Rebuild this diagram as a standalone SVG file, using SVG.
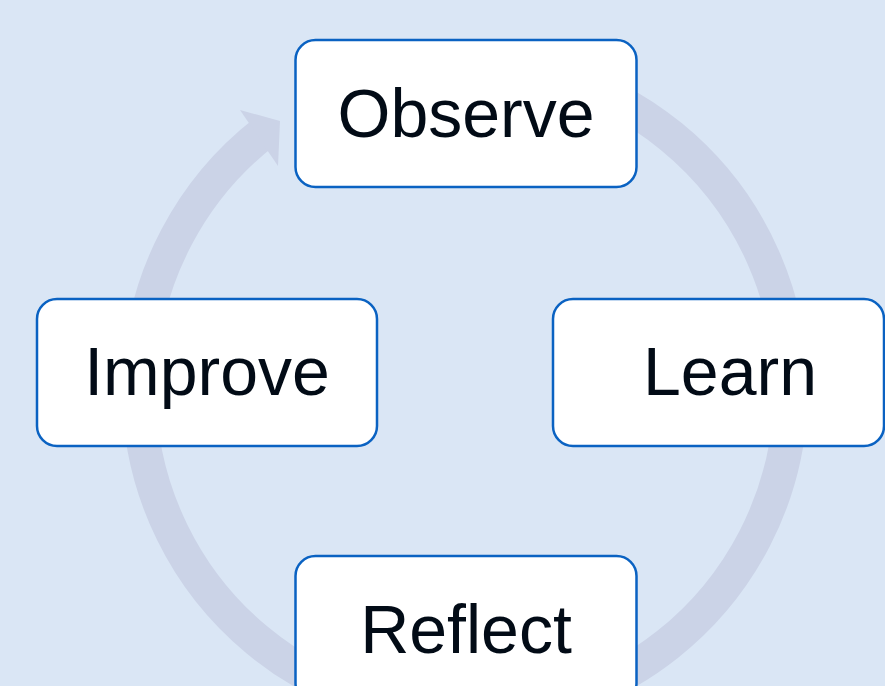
<svg xmlns="http://www.w3.org/2000/svg" width="885" height="686" viewBox="0 0 885 686">
  <style>
    .box { fill: #ffffff; stroke: #0a62c2; stroke-width: 2.5; }
    .label { font-family: "Liberation Sans", Arial, sans-serif; font-size: 68px; fill: #020b16; text-anchor: middle; }
    .ring { fill: none; stroke: #cbd3e7; stroke-width: 34; stroke-linecap: butt; }
    .head { fill: #cbd3e7; }
  </style>
  <rect x="0" y="0" width="885" height="686" fill="#dae6f5"/>
  <g id="connectors">
    <path class="ring" d="M 549.4 74.1 A 326 326 0 1 1 264.3 132.1"/>
    <polygon class="head" points="240,110 280,121 278,166"/>
  </g>
  <g id="observe">
    <rect class="box" x="295.5" y="40" width="341" height="147" rx="20" ry="20"/>
    <text class="label" x="466" y="137">Observe</text>
  </g>
  <g id="learn">
    <rect class="box" x="553" y="299" width="331" height="147" rx="20" ry="20"/>
    <text class="label" x="730" y="395">Learn</text>
  </g>
  <g id="reflect">
    <rect class="box" x="295.5" y="556" width="341" height="147" rx="20" ry="20"/>
    <text class="label" x="466" y="653">Reflect</text>
  </g>
  <g id="improve">
    <rect class="box" x="37" y="299" width="340" height="147" rx="20" ry="20"/>
    <text class="label" x="207" y="395">Improve</text>
  </g>
</svg>
